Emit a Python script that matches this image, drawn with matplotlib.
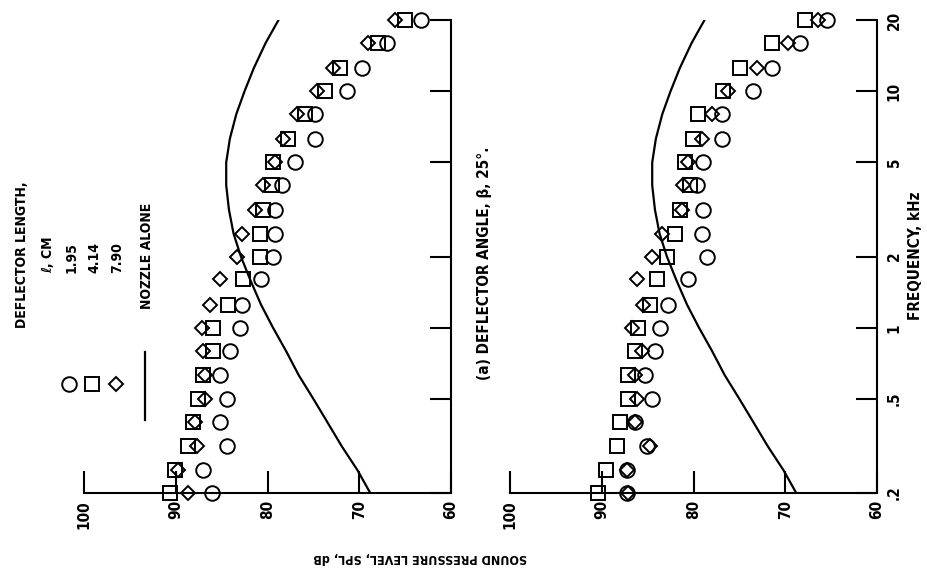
import matplotlib
matplotlib.use("Agg")
import matplotlib.pyplot as plt
from matplotlib.lines import Line2D

plt.rcParams['font.family'] = ['DejaVu Sans']
plt.rcParams['font.weight'] = 'bold'
plt.rcParams['font.stretch'] = 'condensed'

# one-third octave band centre frequencies, kHz
freq = [0.2, 0.25, 0.315, 0.4, 0.5, 0.63, 0.8, 1.0, 1.25, 1.6, 2.0,
        2.5, 3.15, 4.0, 5.0, 6.3, 8.0, 10.0, 12.5, 16.0, 20.0]

# nozzle alone (solid curve, same in both panels)
spl_nozzle = [68.8, 70.2, 71.9, 73.5, 75.0, 76.6, 78.0, 79.4, 80.7, 81.9, 82.9,
              83.7, 84.2, 84.5, 84.5, 84.1, 83.4, 82.5, 81.5, 80.2, 78.8]

# deflector length 1.95 / 4.14 / 7.90 cm, left panel
spl_195_a = [86.0, 87.0, 84.4, 85.2, 84.4, 85.2, 84.1, 83.0, 82.8, 80.7, 79.4,
             79.2, 79.2, 78.4, 77.0, 74.8, 74.8, 71.3, 69.7, 67.0, 63.3]
spl_414_a = [90.6, 90.1, 88.7, 88.1, 87.6, 87.0, 85.9, 85.9, 84.3, 82.7, 80.8,
             80.8, 80.5, 79.5, 79.4, 77.8, 75.9, 73.7, 72.1, 68.0, 65.0]
spl_790_a = [88.7, 89.8, 87.7, 87.9, 86.8, 86.8, 87.0, 87.1, 86.3, 85.2, 83.3,
             82.8, 81.4, 80.5, 79.2, 78.3, 76.8, 74.6, 72.9, 69.0, 66.1]

# right panel
spl_195_b = [87.2, 87.2, 85.1, 86.4, 84.5, 85.3, 84.2, 83.7, 82.8, 80.6, 78.5,
             79.1, 79.0, 79.6, 79.0, 76.9, 76.9, 73.5, 71.4, 68.4, 65.4]
spl_414_b = [90.4, 89.5, 88.3, 88.0, 87.1, 87.1, 86.4, 86.0, 84.7, 84.0, 82.9,
             82.0, 81.5, 80.4, 80.9, 80.1, 79.5, 76.8, 74.9, 71.4, 67.8]
spl_790_b = [87.1, 87.3, 84.7, 86.4, 86.2, 86.4, 85.6, 86.7, 85.5, 86.2, 84.5,
             83.4, 81.3, 81.1, 80.6, 79.1, 78.0, 76.2, 73.1, 69.7, 66.4]

spl_ticks = [100, 90, 80, 70, 60]
freq_ticks = [0.2, 0.5, 1, 2, 5, 10, 20]
freq_labels = ['.2', '.5', '1', '2', '5', '10', '20']

W, H = 927, 573


def fpos(x, y):
    return x / W, 1 - y / H


fig = plt.figure(figsize=(W / 100, H / 100), dpi=100)
ax1 = fig.add_axes([84 / W, 1 - 493 / H, 367 / W, 473 / H])
ax2 = fig.add_axes([510 / W, 1 - 493 / H, 367 / W, 473 / H])

panels = [(ax1, spl_195_a, spl_414_a, spl_790_a),
          (ax2, spl_195_b, spl_414_b, spl_790_b)]

for ax, c, s, d in panels:
    ax.plot(spl_nozzle, freq, color='black', lw=1.6, zorder=2)
    ax.plot(c, freq, 'o', ms=10.5, mfc='none', mec='black', mew=1.4, zorder=3, clip_on=False)
    ax.plot(s, freq, 's', ms=9.5, mfc='none', mec='black', mew=1.4, zorder=3, clip_on=False)
    ax.plot(d, freq, 'D', ms=7, mfc='none', mec='black', mew=1.4, zorder=3, clip_on=False)

    ax.set_yscale('log')
    ax.set_xlim(100, 60)
    ax.set_ylim(0.2, 20)
    ax.spines['left'].set_visible(False)
    ax.spines['top'].set_visible(False)
    ax.spines['bottom'].set_linewidth(1.5)
    ax.spines['right'].set_linewidth(1.5)
    ax.patch.set_alpha(0)

    ax.set_xticks(spl_ticks)
    ax.set_xticklabels([str(t) for t in spl_ticks])
    ax.tick_params(axis='x', direction='in', length=16, width=1.5, pad=5,
                   labelsize=11, labelrotation=90)

    ax.yaxis.tick_right()
    ax.set_yticks(freq_ticks)
    ax.minorticks_off()
    ax.tick_params(axis='y', which='both', direction='in', length=15, width=1.5,
                   pad=7, labelsize=11, labelrotation=90)

ax1.set_yticklabels([])
ax2.set_yticklabels(freq_labels)
for lab in ax2.get_yticklabels():
    lab.set_verticalalignment('center')

# axis titles and panel caption (whole page is turned on its side)
fig.text(*fpos(915, 256), 'FREQUENCY, kHz', rotation=90, ha='center', va='center', fontsize=11)
fig.text(*fpos(420, 558), 'SOUND PRESSURE LEVEL, SPL, dB', rotation=180,
         ha='center', va='center', fontsize=9)
fig.text(*fpos(485, 263), '(a) DEFLECTOR ANGLE, \u03b2, 25\u00b0.', rotation=90,
         ha='center', va='center', fontsize=11)

# legend block
fig.text(*fpos(22, 255), 'DEFLECTOR LENGTH,', rotation=90, ha='center', va='center', fontsize=10)
fig.text(*fpos(48, 255), '\u2113, CM', rotation=90, ha='center', va='center', fontsize=10)
for xp, txt in zip([72, 94, 117], ['1.95', '4.14', '7.90']):
    fig.text(*fpos(xp, 258), txt, rotation=90, ha='center', va='center', fontsize=10)
fig.text(*fpos(147, 256), 'NOZZLE ALONE', rotation=90, ha='center', va='center', fontsize=10)

for xp, mk, ms in [(69, 'o', 10.5), (92, 's', 9.5), (116, 'D', 7)]:
    fx, fy = fpos(xp, 384)
    fig.add_artist(Line2D([fx], [fy], transform=fig.transFigure, marker=mk, ms=ms,
                          mfc='none', mec='black', mew=1.4, linestyle='none'))
x0, y0 = fpos(145, 352)
x1, y1 = fpos(145, 420)
fig.add_artist(Line2D([x0, x1], [y0, y1], transform=fig.transFigure, color='black', lw=1.6))

fig.savefig('out.png', dpi=100)
